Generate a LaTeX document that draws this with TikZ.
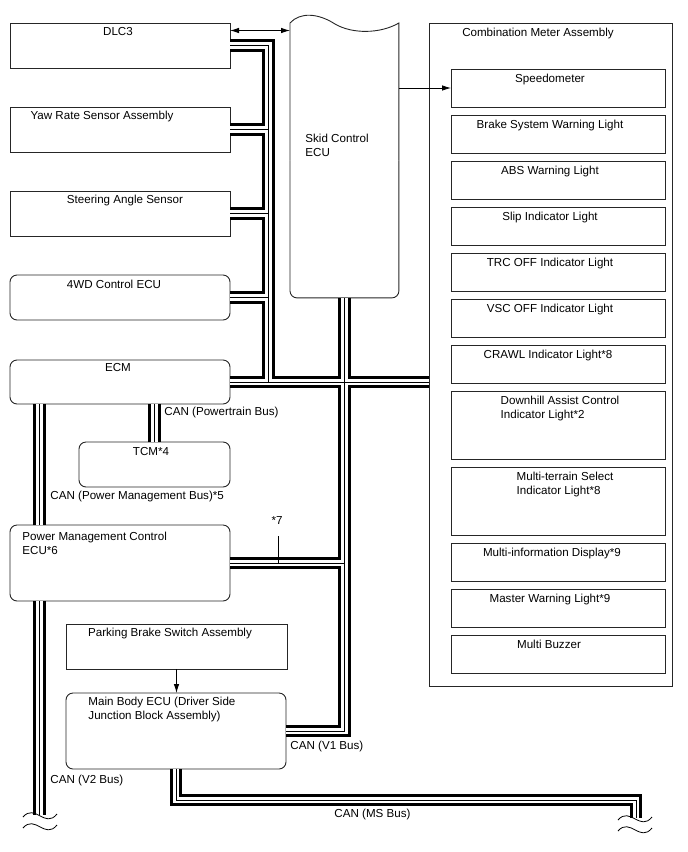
\documentclass[tikz,border=0pt]{standalone}
\usepackage{fontspec}
\setmainfont{Liberation Sans}
\usetikzlibrary{positioning,arrows.meta}

% CAN wiring, drawn once per layer
\newcommand{\canlines}{
  (dlc.east) -| (trunk |- ecm.east)
  (yaw.east) -- (yaw.east -| trunk)
  (steer.east) -- (steer.east -| trunk)
  (fwd.east) -- (fwd.east -| trunk)
  (ecm.east) -- (ecm.east -| meter.west)
  (skid.south) |- (mbecu.east)
  (pmecu.east) -- (pmecu.east -| skid.south)
  (tcm.north) -- (tcm.north |- ecm.south)
  (ecm.south -| v2) -- (pmecu.north -| v2)
  (pmecu.south -| v2) -- (v2)
  (mbecu.south) -- ++(0,31) -| (ms)
}

\begin{document}
\begin{tikzpicture}[x=1pt, y=-1pt, node distance=8pt, line width=0.9pt,
    box/.style={draw=black!85, fill=white, anchor=north west, inner sep=0pt, outer sep=0pt},
    rbox/.style={box, rounded corners=7pt},
    lamp/.style={draw=black!85, fill=white, minimum width=214pt, minimum height=38pt, inner sep=0pt, outer sep=0pt},
    txt/.style={anchor=north, inner sep=0pt, align=left, font=\fontsize{11.6}{13.8}\selectfont},
    lbl/.style={anchor=west, inner sep=0pt, font=\fontsize{11.6}{13.8}\selectfont},
    arr/.style={-{Latex[length=9pt,width=5.5pt]}, line width=0.8pt},
    arrs/.style={{Latex[length=9pt,width=5.5pt]}-{Latex[length=9pt,width=5.5pt]}, line width=0.8pt},
    wave/.style={line width=0.8pt}]

    \useasboundingbox (0,0) rectangle (688,852);

    % Nodes
    \node[box, minimum width=220pt, minimum height=45pt] (dlc) at (10,23) {};
    \node[box, minimum width=220pt, minimum height=45pt] (yaw) at (10,107) {};
    \node[box, minimum width=220pt, minimum height=45pt] (steer) at (10,191) {};
    \node[rbox, minimum width=220pt, minimum height=45pt] (fwd) at (10,275) {};
    \node[rbox, minimum width=220pt, minimum height=44pt] (ecm) at (10,360) {};
    \node[rbox, minimum width=151pt, minimum height=45pt] (tcm) at (79,442) {};
    \node[rbox, minimum width=220pt, minimum height=76pt] (pmecu) at (10,525) {};
    \node[box, minimum width=221pt, minimum height=45pt] (pkb) at (66,624) {};
    \node[rbox, minimum width=220pt, minimum height=76pt] (mbecu) at (66,693) {};
    \node[anchor=north west, minimum width=108pt, minimum height=274pt, inner sep=0pt] (skid) at (290,23) {};
    \node[box, minimum width=243pt, minimum height=663pt] (meter) at (429,23) {};

    \node[lamp, anchor=north west] (spd) at (451,69) {};
    \node[lamp, below=of spd] (brk) {};
    \node[lamp, below=of brk] (abs) {};
    \node[lamp, below=of abs] (slip) {};
    \node[lamp, below=of slip] (trc) {};
    \node[lamp, below=of trc] (vsc) {};
    \node[lamp, below=of vsc] (crawl) {};
    \node[lamp, below=of crawl, minimum height=68pt] (dac) {};
    \node[lamp, below=of dac, minimum height=68pt] (mts) {};
    \node[lamp, below=of mts] (mid) {};
    \node[lamp, below=of mid] (mwl) {};
    \node[lamp, below=of mwl] (buzz) {};

    \coordinate (trunk) at (268.5,0);
    \coordinate (v2) at (39.5,815);
    \coordinate (ms) at (636,818);
    \coordinate (tick) at (278.5,536);

    % Skid Control ECU outline
    \draw[draw=black!85] (skid.west) -- (skid.north west)
        .. controls (300,12) and (318,13) .. (335,24)
        .. controls (352,34) and (380,34) .. (skid.north east) -- (skid.east);
    \draw[draw=black!85, rounded corners=7pt] (skid.east) -- (skid.south east)
        -- (skid.south west) -- (skid.west);

    % Edges (CAN buses)
    \draw[line width=12.5pt] \canlines;
    \draw[line width=6.5pt, white] \canlines;
    \draw[line width=1pt] \canlines;

    % Edges (Lines)
    \draw[arrs] ([yshift=-7.5pt]dlc.north east) -- ([yshift=-7.5pt]dlc.north east -| skid.west);
    \draw[arr] (skid.east |- spd.west) -- (spd.west);
    \draw[arr] (pkb.south) -- (pkb.south |- mbecu.north);
    \draw[line width=0.8pt] (tick) -- (tick |- pmecu.east);

    % Breaks
    \draw[wave] (23,817) .. controls (35,803) and (45,829) .. (57,814);
    \draw[wave] (23,828) .. controls (35,814) and (45,840) .. (57,825);
    \draw[wave] (618,820) .. controls (630,806) and (640,832) .. (652,817);
    \draw[wave] (618,831) .. controls (630,817) and (640,843) .. (652,828);

    % Texts
    \node[txt] (dlc-t) at (118,27) {DLC3};
    \node[txt] (yaw-t) at (102,111) {Yaw Rate Sensor Assembly};
    \node[txt] (steer-t) at (125,195) {Steering Angle Sensor};
    \node[txt] (fwd-t) at (114,280) {4WD Control ECU};
    \node[txt] (ecm-t) at (118,363) {ECM};
    \node[txt] (tcm-t) at (151,447) {TCM*4};
    \node[txt, anchor=north west] (pm-t) at (22,532) {Power Management Control\\ECU*6};
    \node[txt] (pkb-t) at (170,628) {Parking Brake Switch Assembly};
    \node[txt, anchor=north west] (mb-t) at (88,697) {Main Body ECU (Driver Side\\Junction Block Assembly)};
    \node[txt, anchor=north west] (skid-t) at (305,134) {Skid Control\\ECU};
    \node[txt] (meter-t) at (538,28) {Combination Meter Assembly};

    \node[txt, xshift=-8pt, below=4.5pt of spd.north] (spd-t) {Speedometer};
    \node[txt, xshift=-8pt, below=4.5pt of brk.north] (brk-t) {Brake System Warning Light};
    \node[txt, xshift=-8pt, below=4.5pt of abs.north] (abs-t) {ABS Warning Light};
    \node[txt, xshift=-8pt, below=4.5pt of slip.north] (slip-t) {Slip Indicator Light};
    \node[txt, xshift=-8pt, below=4.5pt of trc.north] (trc-t) {TRC OFF Indicator Light};
    \node[txt, xshift=-8pt, below=4.5pt of vsc.north] (vsc-t) {VSC OFF Indicator Light};
    \node[txt, xshift=-10pt, below=4.5pt of crawl.north] (crawl-t) {CRAWL Indicator Light*8};
    \node[txt, xshift=2pt, below=4.5pt of dac.north] (dac-t) {Downhill Assist Control\\Indicator Light*2};
    \node[txt, xshift=7pt, below=4.5pt of mts.north] (mts-t) {Multi-terrain Select\\Indicator Light*8};
    \node[txt, xshift=-6pt, below=4.5pt of mid.north] (mid-t) {Multi-information Display*9};
    \node[txt, xshift=-8pt, below=4.5pt of mwl.north] (mwl-t) {Master Warning Light*9};
    \node[txt, xshift=-9pt, below=4.5pt of buzz.north] (buzz-t) {Multi Buzzer};

    % Bus labels
    \node[lbl] (pwt-l) at (164,412) {CAN (Powertrain Bus)};
    \node[lbl] (pmb-l) at (50,496) {CAN (Power Management Bus)*5};
    \node[lbl] (v2-l) at (50,780.5) {CAN (V2 Bus)};
    \node[lbl] (v1-l) at (290,746.5) {CAN (V1 Bus)};
    \node[lbl] (ms-l) at (334,814.5) {CAN (MS Bus)};
    \node[txt] (s7-l) at (277,516) {*7};

\end{tikzpicture}
\end{document}
